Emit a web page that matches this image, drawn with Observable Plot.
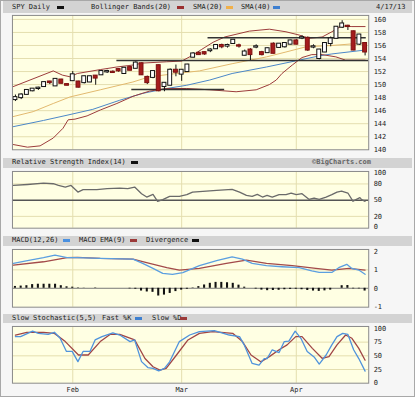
<!DOCTYPE html>
<html><head><meta charset="utf-8">
<script src="https://cdn.jsdelivr.net/npm/d3@7"></script>
<script src="https://cdn.jsdelivr.net/npm/@observablehq/plot@0.6"></script>
<style>
html,body{margin:0;padding:0;background:#fff;}
#wrap{position:relative;width:413px;height:395px;overflow:hidden;background:#f6f6f6;border:1px solid #a8a8a8;
  font-family:"DejaVu Sans Mono",monospace;font-size:7px;color:#222;}
.band{position:absolute;left:2px;right:2px;background:#d3d3d3;}
.lbl{position:absolute;white-space:pre;line-height:9px;}
.dash{position:absolute;height:3px;width:7px;}
</style></head>
<body><div id="wrap"></div>
<script>
// ---------------- DATA ----------------
const dates = ["2013-01-17","2013-01-18","2013-01-22","2013-01-23","2013-01-24","2013-01-25","2013-01-28","2013-01-29","2013-01-30","2013-01-31",
"2013-02-01","2013-02-04","2013-02-05","2013-02-06","2013-02-07","2013-02-08","2013-02-11","2013-02-12","2013-02-13","2013-02-14","2013-02-15",
"2013-02-19","2013-02-20","2013-02-21","2013-02-22","2013-02-25","2013-02-26","2013-02-27","2013-02-28",
"2013-03-01","2013-03-04","2013-03-05","2013-03-06","2013-03-07","2013-03-08","2013-03-11","2013-03-12","2013-03-13","2013-03-14","2013-03-15",
"2013-03-18","2013-03-19","2013-03-20","2013-03-21","2013-03-22","2013-03-25","2013-03-26","2013-03-27","2013-03-28",
"2013-04-01","2013-04-02","2013-04-03","2013-04-04","2013-04-05","2013-04-08","2013-04-09","2013-04-10","2013-04-11","2013-04-12",
"2013-04-15","2013-04-16","2013-04-17"];
const open  = [147.7,148.0,148.5,149.05,149.4,149.7,150.4,149.8,150.7,150.0,150.6,150.4,150.3,150.4,151.3,151.5,151.95,151.9,152.3,151.7,152.6,
  152.5,153.2,151.1,151.1,152.9,149.7,149.9,152.2,151.6,152.0,154.2,154.8,154.9,155.2,155.5,156.0,155.9,156.3,155.95,
  154.5,155.3,155.75,154.9,154.9,156.2,155.7,155.8,156.2,156.7,157.15,157.1,155.75,154.0,155.0,156.3,157.1,158.8,158.95,158.1,156.2,156.3];
const high  = [148.4,148.6,149.2,149.4,149.6,150.4,150.5,150.9,150.8,150.1,152.0,150.5,151.3,151.3,151.4,152.1,152.2,152.1,152.4,152.6,152.8,
  153.5,153.3,151.3,152.1,153.0,150.3,152.4,153.0,152.3,153.1,154.9,155.0,155.0,155.5,156.1,156.2,156.2,156.9,156.2,
  155.3,155.5,156.1,155.1,155.6,156.4,156.3,156.4,156.8,156.9,157.5,157.3,156.1,155.4,156.4,157.3,158.9,159.8,159.1,158.2,157.7,156.4];
const low   = [147.4,147.7,148.4,148.9,149.1,149.6,150.0,149.7,150.1,149.8,150.5,149.5,150.1,150.3,149.9,151.4,151.7,151.7,151.9,151.6,152.1,
  152.4,151.4,150.0,150.9,148.9,148.9,149.8,151.2,150.5,151.9,154.1,154.5,154.5,154.9,155.4,155.5,155.6,156.2,155.6,
  154.4,153.7,155.5,154.4,154.8,154.7,155.6,155.6,156.1,156.1,156.9,155.1,155.5,153.8,154.9,155.8,157.0,158.6,158.3,155.2,156.0,154.4];
const close = [148.0,148.4,149.1,149.3,149.45,150.3,150.3,150.8,150.2,149.9,151.5,149.6,151.2,151.2,151.0,152.0,152.0,151.85,152.1,152.5,152.2,
  153.3,151.5,150.3,152.0,149.05,150.2,152.2,151.9,152.2,153.0,154.7,154.6,154.7,155.3,156.0,155.8,156.0,156.8,155.9,
  155.0,154.6,155.8,154.6,155.5,154.8,156.2,156.3,156.7,156.2,157.2,155.3,155.8,155.3,156.3,157.0,158.8,159.3,158.9,155.3,157.6,155.0];

// indicator readings: [trading-day index, value]
const bbUpper = [[-0.35,149.7],[6.6,152.1],[8.2,151.45],[9.5,151.2],[10.8,151.7],[14.8,152.3],[17.7,152.7],[20.5,153.0],[22.2,153.3],[26.4,153.5],
  [29,153.6],[30.7,154.4],[32.5,155.4],[34.5,156.5],[36.5,157.3],[40.8,158.2],[44.3,158.5],[47.2,158.1],[49.5,157.6],[51.2,157.1],[53.5,157.3],
  [55.2,158.1],[56.9,159.0],[58.7,158.9],[61,158.9]];
const bbLower = [[-0.35,140.8],[2.1,140.4],[4.3,140.6],[6.6,141.8],[8.3,143.3],[9.2,144.6],[10.4,144.7],[12.5,145.2],[14.8,146.1],[17.7,147.1],
  [20.5,148.2],[23.4,149.0],[26.4,149.4],[29.9,149.4],[33.9,149.2],[38.5,148.9],[42,149.2],[44.3,150.0],[45.5,150.7],[46.5,151.7],[48.3,153.0],
  [50,154.15],[51.7,154.6],[53.5,154.6],[55.9,154.25],[57.6,153.75],[61,153.75]];
const sma20 = [[-0.35,145.1],[3.1,145.85],[6.6,147.1],[9.5,148.1],[14.8,149.2],[20.5,150.4],[23.4,151.2],[28.1,151.7],[32.1,152.1],[37.8,153.2],
  [43.8,154.25],[47.2,155.0],[50.7,155.8],[55.2,156.0],[61,156.4]];
const sma40 = [[-0.35,143.55],[4.9,144.5],[9,145.3],[13.5,146.2],[18.2,147.6],[22.2,148.65],[26.4,149.4],[29.9,149.9],[33.9,150.7],[37.8,151.7],
  [43.8,152.7],[49.5,153.75],[53,154.4],[55.2,154.7],[61,155.3]];
// hand-drawn support / resistance levels: [price, from index, to index]
const levels = [[157.2,33.6,61.2],[153.7,17.7,61.6],[149.25,20.3,36.5]];

const rsi = [[-0.35,77.3],[2.1,79],[4.9,81.6],[6.6,80.4],[7.5,77.3],[8.7,74.2],[9.7,77.3],[10.9,65],[11.8,69.4],[14.2,69.4],[16,71.3],[18.2,72.4],
  [19.6,71.3],[20.8,74.2],[22,62],[22.9,55.8],[24,60.8],[24.8,47.9],[25.7,51],[26.9,57.1],[28.6,57.1],[29.9,60.2],[30.9,65],[33.3,66.9],[35.1,68.1],
  [37.8,70],[39.1,65],[40.3,58.9],[41.3,57.1],[42.2,60.8],[43.1,55.8],[43.9,58.9],[44.8,55.8],[46,60.2],[47.2,60.2],[48.1,63.2],[49,60.2],[50,62],
  [51.2,51.6],[52.1,54],[53,51.6],[54.2,55.8],[55.2,60.2],[56.1,65],[56.9,66.9],[58,63.2],[58.9,47.9],[59.4,51],[60.1,54.7],[60.4,51],[61,47.9]];

const macd = [[-0.35,1.35],[2.1,1.5],[4.9,1.66],[6.9,1.8],[9,1.66],[10.8,1.66],[14.8,1.62],[20.5,1.58],[22.2,1.35],[24,1.08],[25.7,0.81],[27.4,0.76],
  [29.2,0.85],[32.1,1.23],[35.1,1.5],[37.8,1.71],[39.6,1.58],[41.3,1.35],[43.8,1.23],[46.5,1.17],[49.5,1.12],[51.7,0.94],[53,0.86],[55.2,0.86],
  [56.4,1.12],[57.8,1.3],[58.7,1.08],[59.9,0.99],[61,0.76]];
const macdEma = [[-0.35,1.26],[4.9,1.44],[9,1.66],[10.8,1.68],[14.8,1.62],[20.5,1.58],[23.4,1.35],[26.4,1.12],[28.6,0.99],[32.1,1.08],[36.8,1.35],
  [40.3,1.53],[43.8,1.35],[48.3,1.23],[52.4,1.08],[55.2,0.99],[58.2,1.08],[61,0.99]];
const divergence = [0.1,0.12,0.14,0.2,0.22,0.22,0.22,0.22,0.14,0.08,0.06,0.02,0.01,0,0.02,0,0,0,0,0,-0.03,-0.05,-0.15,-0.2,-0.22,-0.42,-0.37,-0.28,
  -0.18,-0.1,-0.05,0.02,0.09,0.18,0.27,0.32,0.32,0.3,0.27,0.17,0.06,0,-0.04,-0.1,-0.13,-0.12,-0.11,-0.08,-0.06,-0.05,-0.08,-0.12,-0.15,-0.17,
  -0.14,-0.1,0,0.14,0.15,-0.03,-0.03,-0.15];

const stochK = [[0,85],[0.9,85],[3,95],[4,91],[5.7,89],[6.8,93],[7.8,82],[8.9,58],[9.9,58],[10.9,39.4],[11.8,58],[13,58],[13.9,79],[15.1,85],[17,92],
  [18.2,88],[20,76],[20.8,79],[22,39.4],[23.1,28.5],[24,27],[25,22.4],[26,27],[26.9,39],[28.6,76],[30.4,88],[32.1,94],[34.7,96],[37.3,88],[39.1,85],
  [39.9,70],[41.3,36],[42.5,33],[43.4,45],[43.9,45],[44.8,61],[46,56],[46.9,76],[47.7,77],[48.8,95],[49.8,82],[50.9,58],[52.1,48],[53,35],[54.2,51.5],
  [55.2,70],[56.1,85],[57.1,91],[58,89],[59,61],[59.9,45],[61,22]];
const stochD = [[0,88],[2,93],[4.9,93],[6.8,91],[8.7,76],[11,51.5],[12.7,51.5],[14.8,76],[16.5,89],[18.2,89],[20.8,79],[22.6,45],[24,30],[25.2,24],
  [26.3,27],[28.1,51.5],[30.1,79],[32.1,91],[34.4,94],[37.9,91],[39.6,76],[41.1,51.5],[42.8,39],[44.3,48.5],[46,61],[47.4,70],[48.9,85],[50,85],
  [51.8,63.6],[53.5,45.5],[54.7,48.5],[56.1,70],[57.6,88],[58.7,82],[59.9,63.6],[61,42]];

const priceTicks = [140,142,144,146,148,150,152,154,156,158,160];
const rsiTicks = [0,20,50,80,100];
const macdTicks = [-1,0,1,2];
const stochTicks = [0,25,50,75,100];
const monthNames = {"02":"Feb","03":"Mar","04":"Apr"};

// ---------------- BUILD ----------------
const wrap = document.getElementById("wrap");
const xDomain = [-0.52, 61.63];
const GRID = "#e4deae", BG = "#ffffe3";
const FONT = "'DejaVu Sans Mono', monospace";
const pts = a => a.map(([i, v]) => ({i, v}));
const candles = dates.map((d, i) => ({i, o: open[i], h: high[i], l: low[i], c: close[i]}));
const ups = candles.filter(d => d.c >= d.o), downs = candles.filter(d => d.c < d.o);
const monthStarts = Object.keys(monthNames).map(m => dates.findIndex(d => d.slice(5, 7) === m));
const monthLabel = i => monthNames[dates[i].slice(5, 7)];
const lvl = levels.map(([v, i1, i2]) => ({v, i1, i2}));

function place(svg, top) {
  svg.style.position = "absolute"; svg.style.left = "-1px"; svg.style.top = (top - 1) + "px";
  wrap.appendChild(svg);
}
const common = (h, mt, mb) => ({
  width: 415, height: h, marginLeft: 12, marginRight: 45, marginTop: mt, marginBottom: mb,
  style: {background: "transparent", fontFamily: FONT, fontSize: "7px", color: "#222", overflow: "visible"}
});
const yAxis = ticks => Plot.axisY({anchor: "right", ticks, tickSize: 0, tickPadding: 5, label: null, tickFormat: d => String(d)});

function band(top, h) { const b = document.createElement("div"); b.className = "band"; b.style.top = (top - 1) + "px"; b.style.height = h + "px"; wrap.appendChild(b); }
function label(text, x, top, color) { const s = document.createElement("div"); s.className = "lbl"; s.textContent = text; s.style.left = (x - 1) + "px"; s.style.top = (top - 1) + "px"; if (color) s.style.color = color; wrap.appendChild(s); return s; }
function dash(x, top, color) { const s = document.createElement("div"); s.className = "dash"; s.style.left = (x - 1) + "px"; s.style.top = (top - 1) + "px"; s.style.background = color; wrap.appendChild(s); }

// header bands + legends
band(1, 12);
label("SPY Daily", 12, 3); dash(57, 6, "#111");
label("Bollinger Bands(20)", 91, 3); dash(177, 6, "#9b2f2f");
label("SMA(20)", 193, 3); dash(226, 6, "#f0b04a");
label("SMA(40)", 241, 3); dash(273, 6, "#3d7fd0");
label("4/17/13", 376, 3);

band(158, 10);
label("Relative Strength Index(14)", 12, 158); dash(131, 161, "#111");
const bc = label("\u00a9BigCharts.com", 312, 158, "#666"); bc.style.fontWeight = "bold";

band(236, 10);
label("MACD(12,26)", 12, 236); dash(63, 239, "#4a90e0");
label("MACD EMA(9)", 79, 236); dash(130, 239, "#9b3a3a");
label("Divergence", 146, 236); dash(192, 239, "#111");

band(314, 9);
label("Slow Stochastic(5,5)", 12, 314); label("Fast %K", 102, 314); dash(135, 317, "#3d7fd0");
label("Slow %D", 152, 314); dash(180, 317, "#9b3a3a");

// panel 1: price
place(Plot.plot({
  ...common(155, 15, 5),
  x: {domain: xDomain, axis: null},
  y: {domain: [140, 160.61], axis: null},
  marks: [
    Plot.frame({fill: BG, stroke: null}),
    Plot.ruleY(priceTicks.filter(t => t > 140), {stroke: GRID}),
    Plot.ruleX(monthStarts, {stroke: GRID}),
    Plot.line(pts(sma40), {x: "i", y: "v", stroke: "#4a86c8", strokeWidth: 1}),
    Plot.line(pts(sma20), {x: "i", y: "v", stroke: "#e2b86e", strokeWidth: 1}),
    Plot.line(pts(bbUpper), {x: "i", y: "v", stroke: "#9b3a3a", strokeWidth: 1}),
    Plot.line(pts(bbLower), {x: "i", y: "v", stroke: "#9b3a3a", strokeWidth: 1}),
    Plot.ruleY(lvl, {y: "v", x1: "i1", x2: "i2", stroke: "#333", strokeWidth: 1.5}),
    Plot.ruleX(candles, {x: "i", y1: "l", y2: "h", stroke: "#111"}),
    Plot.rect(ups, {x1: d => d.i - 0.34, x2: d => d.i + 0.34, y1: "o", y2: "c", fill: "#fff", stroke: "#111", insetTop: -0.5, insetBottom: -0.5}),
    Plot.rect(downs, {x1: d => d.i - 0.34, x2: d => d.i + 0.34, y1: "o", y2: "c", fill: "#a51c1c", stroke: "#7d1010", insetTop: -0.5, insetBottom: -0.5}),
    Plot.frame({stroke: "#8a8a8a"}),
    yAxis(priceTicks)
  ]
}), 0);

// panel 2: RSI
place(Plot.plot({
  ...common(66, 6, 3),
  x: {domain: xDomain, axis: null},
  y: {domain: [-1.84, 103.1], axis: null},
  marks: [
    Plot.frame({fill: BG, stroke: null}),
    Plot.ruleY([20, 80], {stroke: GRID}),
    Plot.ruleX(monthStarts, {stroke: GRID}),
    Plot.ruleY([50], {stroke: "#555", strokeWidth: 1.5}),
    Plot.line(pts(rsi), {x: "i", y: "v", stroke: "#6a6a6a", strokeWidth: 1.3}),
    Plot.frame({stroke: "#8a8a8a"}),
    yAxis(rsiTicks)
  ]
}), 165);

// panel 3: MACD
place(Plot.plot({
  ...common(67, 6, 3),
  x: {domain: xDomain, axis: null},
  y: {domain: [-1.027, 2.108], axis: null},
  marks: [
    Plot.frame({fill: BG, stroke: null}),
    Plot.ruleY([1], {stroke: GRID}),
    Plot.ruleX(monthStarts, {stroke: GRID}),
    Plot.ruleY([0], {stroke: "#777"}),
    Plot.rect(divergence.map((v, i) => ({i, v})), {x1: d => d.i - 0.18, x2: d => d.i + 0.18, y1: 0, y2: "v", fill: "#111"}),
    Plot.line(pts(macdEma), {x: "i", y: "v", stroke: "#a34a4a", strokeWidth: 1.3}),
    Plot.line(pts(macd), {x: "i", y: "v", stroke: "#5b9fe0", strokeWidth: 1.3}),
    Plot.frame({stroke: "#8a8a8a"}),
    yAxis(macdTicks)
  ]
}), 243);

// panel 4: Stochastic
place(Plot.plot({
  ...common(77, 6, 14),
  x: {domain: xDomain},
  y: {domain: [0, 103.6], axis: null},
  marks: [
    Plot.frame({fill: BG, stroke: null}),
    Plot.ruleY([25, 50, 75], {stroke: GRID}),
    Plot.ruleX(monthStarts, {stroke: GRID}),
    Plot.line(pts(stochD), {x: "i", y: "v", stroke: "#a04545", strokeWidth: 1.3}),
    Plot.line(pts(stochK), {x: "i", y: "v", stroke: "#4f93dc", strokeWidth: 1.3}),
    Plot.frame({stroke: "#8a8a8a"}),
    yAxis(stochTicks),
    Plot.axisX({anchor: "bottom", ticks: monthStarts, tickFormat: monthLabel, tickSize: 0, tickPadding: 4, label: null})
  ]
}), 320);
</script></body></html>
